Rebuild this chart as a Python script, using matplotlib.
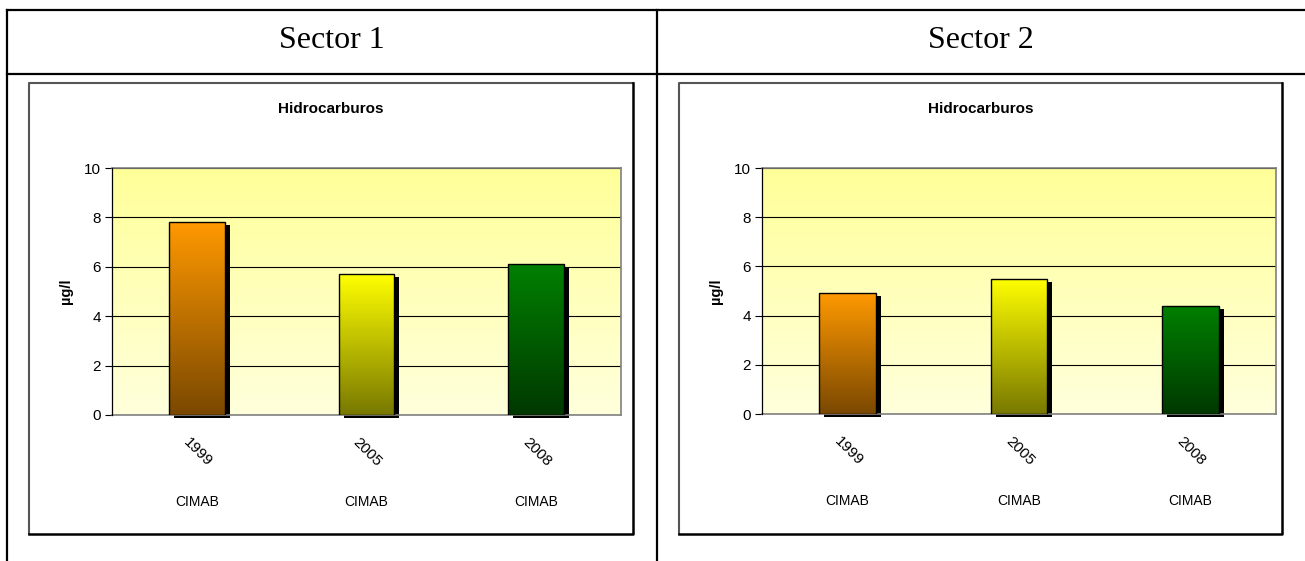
import numpy as np
import matplotlib
matplotlib.use('Agg')
import matplotlib.pyplot as plt
from matplotlib.colors import LinearSegmentedColormap
from matplotlib.lines import Line2D
import matplotlib.transforms as mtransforms

W, H = 1305, 561
sectors = ['Sector 1', 'Sector 2']
years = ['1999', '2005', '2008']
sources = ['CIMAB', 'CIMAB', 'CIMAB']
sector1_values = [7.8, 5.7, 6.1]
sector2_values = [4.9, 5.5, 4.4]
chart_title = 'Hidrocarburos'
ylabel = 'µg/l'
yticks = [0, 2, 4, 6, 8, 10]
bar_top_colors = ['#FF9900', '#FFFF00', '#008000']
bar_bottom_colors = ['#7A4800', '#787800', '#003800']

plt.rcParams['font.family'] = ['Liberation Sans', 'DejaVu Sans']
fig = plt.figure(figsize=(W / 100, H / 100), dpi=100)


def fx(x):
    return x / W


def fy(y):
    return 1 - y / H


# table grid lines
for (x0, y0, x1, y1) in [(7, 10, W, 10), (7, 74, W, 74), (7, 10, 7, H), (657, 10, 657, H)]:
    fig.add_artist(Line2D([fx(x0), fx(x1)], [fy(y0), fy(y1)], color='black', lw=1.6,
                          transform=fig.transFigure, solid_capstyle='projecting'))

headers_x = [332, 981]
boxes = [(29, 83, 633, 534), (679, 83, 1282, 534)]
plots = [(112, 168, 621, 415), (762, 168, 1276, 414)]
values_list = [sector1_values, sector2_values]

bg_cmap = LinearSegmentedColormap.from_list('bg', ['#FFFFDC', '#FFFF99'])

for k in range(2):
    fig.text(fx(headers_x[k]), fy(41), sectors[k], ha='center', va='center',
             fontsize=23, family=['Liberation Serif', 'DejaVu Serif'])
    bx0, by0, bx1, by1 = boxes[k]
    # chart box: gray top/left, black bottom/right
    fig.add_artist(Line2D([fx(bx0), fx(bx0), fx(bx1)], [fy(by1), fy(by0), fy(by0)],
                          color='#555555', lw=1.5, transform=fig.transFigure))
    fig.add_artist(Line2D([fx(bx0), fx(bx1), fx(bx1)], [fy(by1), fy(by1), fy(by0)],
                          color='black', lw=1.8, transform=fig.transFigure))
    fig.text(fx((bx0 + bx1) / 2), fy(109), chart_title, ha='center', va='center',
             fontsize=11, fontweight='bold')

    px0, py0, px1, py1 = plots[k]
    ax = fig.add_axes([fx(px0), fy(py1), fx(px1) - fx(px0), fy(py0) - fy(py1)])
    vals = values_list[k]
    x = np.arange(len(years))
    ax.set_xlim(-0.5, len(years) - 0.5)
    ax.set_ylim(0, 10)

    # background gradient
    grad = np.linspace(0, 1, 256).reshape(-1, 1)
    ax.imshow(grad, extent=[-0.5, len(years) - 0.5, 0, 10], origin='lower',
              cmap=bg_cmap, aspect='auto', zorder=0)

    ax.set_yticks(yticks)
    ax.yaxis.grid(True, color='black', lw=0.8)
    ax.set_axisbelow(True)
    ax.tick_params(axis='y', direction='out', length=5, width=0.8, labelsize=11, pad=3)
    ax.set_xticks([])
    for s in ['top', 'right', 'bottom']:
        ax.spines[s].set_color('#808080')
        ax.spines[s].set_linewidth(1.2)
    ax.spines['left'].set_color('black')
    ax.spines['left'].set_linewidth(0.9)
    ax.spines['left'].set_zorder(5)

    bw = 0.33
    shadow_tr = ax.transData + mtransforms.ScaledTranslation(5 / 100, -3 / 100, fig.dpi_scale_trans)
    ax.bar(x, vals, width=bw, color='black', zorder=2, transform=shadow_tr, clip_on=False)
    bars = ax.bar(x, vals, width=bw, facecolor='none', edgecolor='black', lw=1.0, zorder=4)
    for i, b in enumerate(bars):
        cm = LinearSegmentedColormap.from_list('b%d' % i, [bar_bottom_colors[i], bar_top_colors[i]])
        im = ax.imshow(grad, extent=[x[i] - bw / 2, x[i] + bw / 2, 0, vals[i]], origin='lower',
                       cmap=cm, aspect='auto', zorder=3)
        im.set_clip_path(b)
    ax.set_xlim(-0.5, len(years) - 0.5)
    ax.set_ylim(0, 10)

    for i in range(len(years)):
        ax.annotate(years[i], xy=(x[i], 0), xycoords=('data', 'axes fraction'),
                    xytext=(1, -37), textcoords='offset pixels', ha='center', va='center',
                    rotation=-45, fontsize=11, annotation_clip=False)
        ax.annotate(sources[i], xy=(x[i], 0), xycoords=('data', 'axes fraction'),
                    xytext=(0, -87), textcoords='offset pixels', ha='center', va='center',
                    fontsize=10, annotation_clip=False)

    fig.text(fx(bx0 + 37), fy((py0 + py1) / 2), ylabel, rotation=90, ha='center', va='center',
             fontsize=10.5, fontweight='bold')

fig.savefig('out.png', dpi=100)
